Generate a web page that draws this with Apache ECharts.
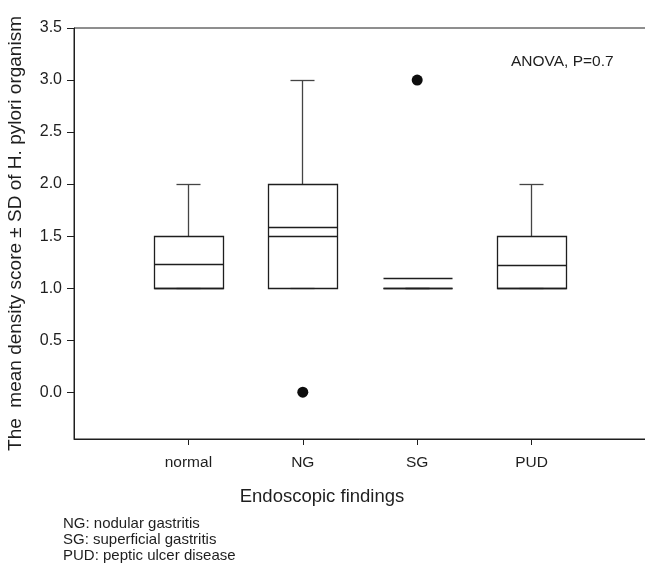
<!DOCTYPE html>
<html>
<head>
<meta charset="utf-8">
<script src="https://cdn.jsdelivr.net/npm/echarts@6/dist/echarts.min.js"></script>
<style>
  * { margin: 0; padding: 0; }
  html, body { width: 645px; height: 568px; background: #fff; }
  #main { width: 645px; height: 568px; }
</style>
</head>
<body>
<div id="main"></div>
<script>
// box plot data
const categories = ['normal', 'NG', 'SG', 'PUD'];
const lowerWhisker = [1.0, 1.0, 1.0, 1.0];
const q1 = [1.0, 1.0, 1.0, 1.0];
const median = [1.0, 1.5, 1.0, 1.0];
const q3 = [1.5, 2.0, 1.0, 1.5];
const upperWhisker = [2.0, 3.0, 1.0, 2.0];
const means = [1.23, 1.58, 1.09, 1.22];
// outliers: [category position, value]
const outliers = [[2, 0.0], [3, 3.0]];
const yTicks = [0, 0.5, 1.0, 1.5, 2.0, 2.5, 3.0, 3.5];
const xTicks = [1, 2, 3, 4];
const footnotes = ['NG: nodular gastritis', 'SG: superficial gastritis', 'PUD: peptic ulcer disease'];

const FONT = "'Liberation Sans', Arial, Helvetica, sans-serif";
const INK = '#1e1e1e';

const boxData = categories.map((c, i) => [i + 1, lowerWhisker[i], q1[i], median[i], q3[i], upperWhisker[i], means[i]]);

const crisp = v => Math.round(v - 0.5) + 0.5;

function renderBox(params, api) {
  const x = api.value(0);
  const cx = api.coord([x, 0])[0];
  const y = i => crisp(api.coord([x, api.value(i)])[1]);
  const boxW = api.size([0.6, 0])[0];
  const capW = api.size([0.21, 0])[0];
  const left = Math.round(cx - boxW / 2) + 0.5;
  const right = Math.round(cx + boxW / 2) + 0.5;
  const mid = crisp(cx);
  const lo = y(1), b1 = y(2), md = y(3), b3 = y(4), hi = y(5), mn = y(6);
  const boxStyle = { stroke: INK, lineWidth: 1.3, fill: null };
  const whiskStyle = { stroke: '#444', lineWidth: 1.3 };
  const hline = (yy, x1, x2, style) => ({ type: 'line', shape: { x1: x1, y1: yy, x2: x2, y2: yy }, style: style });
  const children = [];
  // whiskers + caps
  if (hi < b3) {
    children.push({ type: 'line', shape: { x1: mid, y1: b3, x2: mid, y2: hi }, style: whiskStyle });
  }
  children.push(hline(hi, mid - capW / 2, mid + capW / 2, whiskStyle));
  if (lo > b1) {
    children.push({ type: 'line', shape: { x1: mid, y1: b1, x2: mid, y2: lo }, style: whiskStyle });
  }
  children.push(hline(lo, mid - capW / 2, mid + capW / 2, whiskStyle));
  // box
  children.push({ type: 'rect', shape: { x: left, y: b3, width: right - left, height: b1 - b3 }, style: boxStyle });
  // median and mean lines
  children.push(hline(md, left, right, boxStyle));
  children.push(hline(mn, left, right, boxStyle));
  return { type: 'group', children: children };
}

const chart = echarts.init(document.getElementById('main'), null, { renderer: 'canvas' });

chart.setOption({
  animation: false,
  textStyle: { fontFamily: FONT },
  grid: {
    left: 74,
    top: 28,
    width: 572,
    height: 411,
    show: true,
    borderColor: INK,
    borderWidth: 1,
    outerBoundsMode: 'none',
    containLabel: false
  },
  xAxis: {
    type: 'value',
    min: 0,
    max: 5,
    splitLine: { show: false },
    axisLine: { show: true, onZero: false, lineStyle: { color: INK, width: 1 } },
    axisTick: { show: true, length: 6, customValues: xTicks, lineStyle: { color: INK } },
    axisLabel: {
      customValues: xTicks,
      margin: 16,
      color: INK,
      fontSize: 15.5,
      fontFamily: FONT,
      formatter: v => categories[v - 1]
    }
  },
  yAxis: {
    type: 'value',
    min: -0.45,
    max: 3.5,
    name: 'The  mean density score ± SD of H. pylori organism',
    nameLocation: 'middle',
    nameGap: 49,
    nameTextStyle: { fontSize: 19, color: INK, fontFamily: FONT },
    splitLine: { show: false },
    axisLine: { show: true, onZero: false, lineStyle: { color: INK, width: 1 } },
    axisTick: { show: true, length: 7, customValues: yTicks, lineStyle: { color: INK } },
    axisLabel: {
      customValues: yTicks,
      margin: 12,
      color: INK,
      fontSize: 16,
      fontFamily: FONT,
      formatter: v => v.toFixed(1)
    }
  },
  graphic: [
    {
      type: 'text', left: 511, top: 54,
      style: { text: 'ANOVA, P=0.7', font: '15.5px ' + FONT, fill: INK }
    },
    {
      type: 'text', x: 322, y: 497,
      style: { text: 'Endoscopic findings', font: '18.5px ' + FONT, fill: INK, align: 'center', verticalAlign: 'middle' }
    }
  ].concat(footnotes.map((t, i) => ({
    type: 'text', x: 63, y: 524 + i * 16,
    style: { text: t, font: '15px ' + FONT, fill: INK, align: 'left', verticalAlign: 'middle' }
  }))),
  series: [
    {
      type: 'custom',
      renderItem: renderBox,
      data: boxData,
      clip: false
    },
    {
      type: 'scatter',
      symbol: 'circle',
      symbolSize: 11,
      itemStyle: { color: '#0d0d0d', opacity: 1 },
      data: outliers
    }
  ]
});
</script>
</body>
</html>
